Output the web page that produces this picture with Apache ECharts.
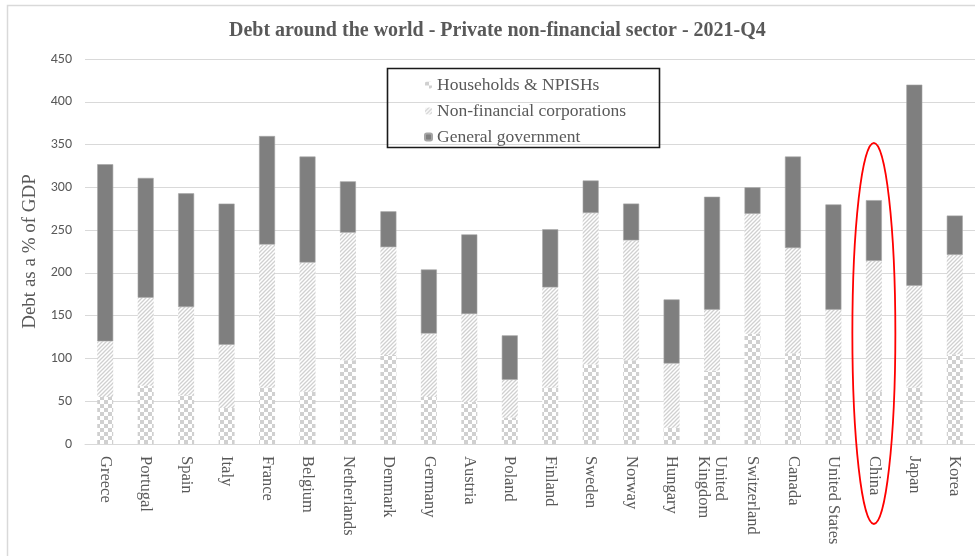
<!DOCTYPE html>
<html>
<head>
<meta charset="utf-8">
<script src="https://cdn.jsdelivr.net/npm/echarts@6/dist/echarts.min.js"></script>
<style>
html,body{margin:0;padding:0;background:#fff;}
#main{width:975px;height:556px;}
</style>
</head>
<body>
<div id="main"></div>
<script>
// categories and values (% of GDP)
var countries = ['Greece','Portugal','Spain','Italy','France','Belgium','Netherlands','Denmark','Germany','Austria','Poland','Finland','Sweden','Norway','Hungary','United\nKingdom','Switzerland','Canada','United States','China','Japan','Korea'];
var households = [55, 68, 57, 42, 66, 61, 98, 104, 55, 49, 31, 66, 93, 98, 19, 86, 129, 106, 74, 61, 66, 105];
var corporations = [65, 103, 103, 74, 167, 151, 149, 126, 74, 103, 44, 117, 177, 140, 75, 71, 140, 123, 83, 153, 119, 116];
var government = [207, 140, 133, 165, 127, 124, 60, 42, 75, 93, 52, 68, 38, 43, 75, 132, 31, 107, 123, 71, 235, 46];
var yTicks = [0, 50, 100, 150, 200, 250, 300, 350, 400, 450];

var serif = '"Liberation Serif", "DejaVu Serif", serif';
var sans = 'Carlito, "Liberation Sans", "Noto Sans", sans-serif';

// checkerboard for households
function checker() {
    var c = document.createElement('canvas');
    c.width = 8; c.height = 8;
    var g = c.getContext('2d');
    g.fillStyle = '#fff'; g.fillRect(0, 0, 8, 8);
    g.fillStyle = '#d0d0d0';
    g.fillRect(0, 0, 4, 4); g.fillRect(4, 4, 4, 4);
    return c;
}
// diagonal hatch for corporations
function hatch() {
    var c = document.createElement('canvas');
    c.width = 4; c.height = 4;
    var g = c.getContext('2d');
    g.fillStyle = '#fff'; g.fillRect(0, 0, 4, 4);
    g.strokeStyle = '#d0d0d0'; g.lineWidth = 1.3;
    g.beginPath();
    g.moveTo(0, 4); g.lineTo(4, 0);
    g.moveTo(-1, 1); g.lineTo(1, -1);
    g.moveTo(3, 5); g.lineTo(5, 3);
    g.stroke();
    return c;
}

var myChart = echarts.init(document.getElementById('main'));

var option = {
    animation: false,
    title: {
        text: 'Debt around the world - Private non-financial sector - 2021-Q4',
        left: 229,
        top: 21,
        padding: 0,
        textStyle: { fontFamily: serif, fontWeight: 'bold', fontSize: 20, color: '#595959' }
    },
    legend: {
        orient: 'vertical',
        left: 419,
        top: 71,
        itemWidth: 7,
        itemHeight: 7,
        itemGap: 8,
        data: ['Households & NPISHs', 'Non-financial corporations', 'General government'],
        textStyle: { fontFamily: serif, fontSize: 17.5, color: '#595959' }
    },
    grid: { left: 85, right: 0, top: 59, bottom: 112 },
    xAxis: {
        type: 'category',
        data: countries,
        axisTick: { show: false },
        axisLine: { lineStyle: { color: '#d9d9d9', width: 1 } },
        axisLabel: {
            rotate: -90,
            interval: 0,
            margin: 12,
            fontFamily: serif,
            fontSize: 16.5,
            color: '#595959',
            lineHeight: 17
        }
    },
    yAxis: {
        type: 'value',
        min: yTicks[0],
        max: yTicks[yTicks.length - 1],
        interval: 50,
        name: 'Debt as a % of GDP',
        nameLocation: 'middle',
        nameGap: 44,
        nameTextStyle: { fontFamily: serif, fontSize: 19, color: '#595959' },
        axisLine: { show: false },
        axisTick: { show: false },
        axisLabel: { fontFamily: sans, fontSize: 14, color: '#595959', margin: 13 },
        splitLine: { lineStyle: { color: '#d9d9d9', width: 1 } }
    },
    series: [{
        name: 'Households & NPISHs',
        type: 'bar',
        stack: 'debt',
        barWidth: 16,
        data: households,
        itemStyle: { color: { image: checker(), repeat: 'repeat' } }
    }, {
        name: 'Non-financial corporations',
        type: 'bar',
        stack: 'debt',
        data: corporations,
        itemStyle: { color: { image: hatch(), repeat: 'repeat' } }
    }, {
        name: 'General government',
        type: 'bar',
        stack: 'debt',
        data: government,
        itemStyle: { color: '#7f7f7f', borderColor: '#a6a6a6', borderWidth: 0.6 }
    }]
};

myChart.setOption(option);

// frame, legend box and red ellipse around China
var chinaX = myChart.convertToPixel({ xAxisIndex: 0 }, 'China');
var ellTop = myChart.convertToPixel({ yAxisIndex: 0 }, 352);
var ellBottom = 524;
myChart.setOption({
    graphic: [{
        type: 'rect',
        shape: { x: 7.5, y: 5.5, width: 980, height: 560 },
        style: { fill: 'none', stroke: '#d9d9d9', lineWidth: 1.5 },
        silent: true
    }, {
        type: 'rect',
        shape: { x: 387.5, y: 68.5, width: 272, height: 79 },
        style: { fill: 'none', stroke: '#1a1a1a', lineWidth: 1.6 },
        silent: true
    }, {
        type: 'ellipse',
        shape: { cx: chinaX, cy: (ellTop + ellBottom) / 2, rx: 21.5, ry: (ellBottom - ellTop) / 2 },
        style: { fill: 'none', stroke: '#ff0000', lineWidth: 1.8 },
        silent: true,
        z: 100
    }]
});
</script>
</body>
</html>
